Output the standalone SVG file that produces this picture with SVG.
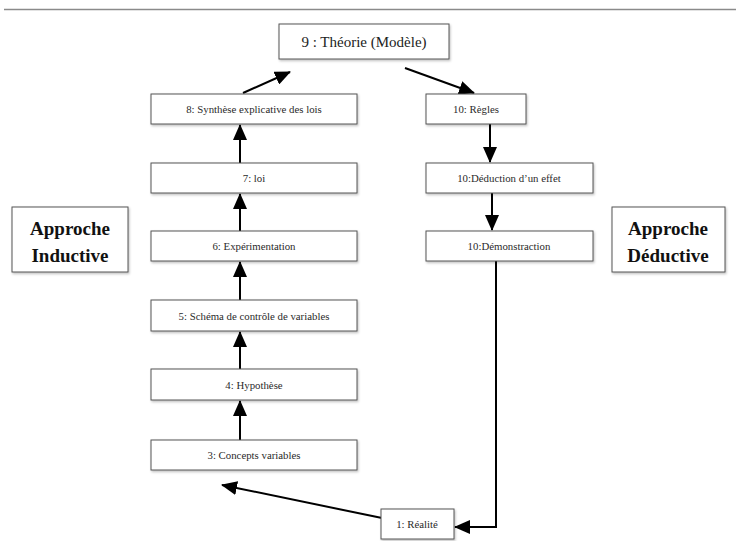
<svg xmlns="http://www.w3.org/2000/svg" width="736" height="541" viewBox="0 0 736 541">
<defs>
<marker id="ah" markerUnits="userSpaceOnUse" markerWidth="16" markerHeight="14" viewBox="0 0 16 14" refX="15" refY="7" orient="auto">
<path d="M0,0 L16,7 L0,14 Z" fill="#000"/>
</marker>
<filter id="sh" x="-10%" y="-10%" width="130%" height="140%">
<feDropShadow dx="1" dy="1.5" stdDeviation="1" flood-color="#000" flood-opacity="0.25"/>
</filter>
</defs>
<style>
.box{fill:#fff;stroke:#555;stroke-width:1;filter:url(#sh)}
.t{font-family:"Liberation Serif","DejaVu Serif",serif;font-size:10.8px;fill:#2a2a2a;text-anchor:middle;dominant-baseline:central}
.tl{font-family:"Liberation Serif","DejaVu Serif",serif;font-size:15px;fill:#222;text-anchor:middle;dominant-baseline:central}
.tb{font-family:"Liberation Serif","DejaVu Serif",serif;font-size:19px;font-weight:bold;fill:#111;text-anchor:middle;dominant-baseline:central}
.c{stroke:#000;stroke-width:2;fill:none;marker-end:url(#ah)}
</style>
<rect width="736" height="541" fill="#fff"/>
<line x1="4" y1="9.5" x2="736" y2="9.5" stroke="#8a8a8a" stroke-width="1.5"/>
<g id="connectors">
<line class="c" x1="240" y1="440" x2="240" y2="401"/>
<line class="c" x1="240" y1="369" x2="240" y2="332"/>
<line class="c" x1="240" y1="300" x2="240" y2="262"/>
<line class="c" x1="240" y1="231" x2="240" y2="194"/>
<line class="c" x1="240" y1="163" x2="240" y2="125"/>
<line class="c" x1="243" y1="93" x2="290" y2="72"/>
<line class="c" x1="405" y1="68" x2="474" y2="93"/>
<line class="c" x1="490" y1="124" x2="490" y2="162"/>
<line class="c" x1="492" y1="193" x2="492" y2="230"/>
<polyline class="c" points="496,261 496,527 455,527"/>
<line class="c" x1="382" y1="518" x2="222" y2="485"/>
</g>
<g id="n9"><rect class="box" x="279" y="24" width="170" height="35"/><text class="tl" x="364" y="42">9 : Théorie (Modèle)</text></g>
<g id="n8"><rect class="box" x="151" y="94" width="206" height="30"/><text class="t" x="254" y="109">8: Synthèse explicative des lois</text></g>
<g id="n10a"><rect class="box" x="426" y="94" width="100" height="30"/><text class="t" x="476" y="109">10: Règles</text></g>
<g id="n7"><rect class="box" x="151" y="163" width="206" height="30"/><text class="t" x="254" y="178">7: loi</text></g>
<g id="n10b"><rect class="box" x="426" y="163" width="167" height="30"/><text class="t" x="509" y="178">10:Déduction d’un effet</text></g>
<g id="n6"><rect class="box" x="151" y="231" width="206" height="30"/><text class="t" x="254" y="246">6: Expérimentation</text></g>
<g id="n10c"><rect class="box" x="426" y="231" width="167" height="30"/><text class="t" x="509" y="246">10:Démonstraction</text></g>
<g id="n5"><rect class="box" x="151" y="300" width="206" height="31"/><text class="t" x="254" y="316">5: Schéma de contrôle de variables</text></g>
<g id="n4"><rect class="box" x="151" y="369" width="206" height="31"/><text class="t" x="254" y="385">4: Hypothèse</text></g>
<g id="n3"><rect class="box" x="151" y="440" width="206" height="30"/><text class="t" x="254" y="455">3: Concepts variables</text></g>
<g id="n1"><rect class="box" x="381" y="509" width="73" height="30"/><text class="t" x="417" y="524">1: Réalité</text></g>
<g id="ind"><rect class="box" x="12" y="207" width="116" height="65"/><text class="tb" x="70" y="228">Approche</text><text class="tb" x="70" y="255">Inductive</text></g>
<g id="ded"><rect class="box" x="612" y="207" width="113" height="65"/><text class="tb" x="668" y="228">Approche</text><text class="tb" x="668" y="255">Déductive</text></g>
</svg>
